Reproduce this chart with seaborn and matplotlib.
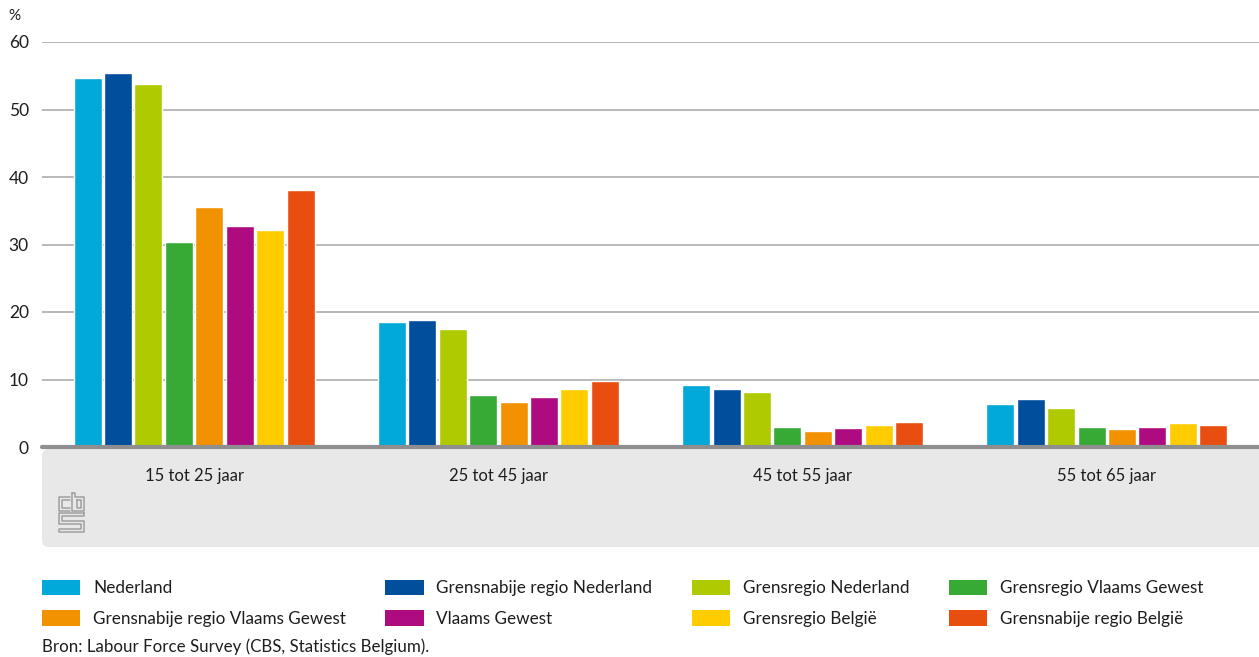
import pandas as pd
import matplotlib.pyplot as plt
import seaborn as sns
from matplotlib.patches import FancyBboxPatch, Patch
from matplotlib.lines import Line2D

# Data (werkloosheid naar leeftijd, %)
leeftijd = ['15 tot 25 jaar', '25 tot 45 jaar', '45 tot 55 jaar', '55 tot 65 jaar']
regio = ['Nederland', 'Grensnabije regio Nederland', 'Grensregio Nederland',
         'Grensregio Vlaams Gewest', 'Grensnabije regio Vlaams Gewest',
         'Vlaams Gewest', 'Grensregio België', 'Grensnabije regio België']
nederland = [54.7, 18.5, 9.2, 6.3]
grensnabije_nl = [55.4, 18.8, 8.6, 7.1]
grensregio_nl = [53.8, 17.5, 8.1, 5.8]
grensregio_vg = [30.4, 7.7, 2.9, 2.9]
grensnabije_vg = [35.6, 6.6, 2.3, 2.6]
vlaams_gewest = [32.7, 7.4, 2.8, 2.9]
grensregio_be = [32.1, 8.6, 3.2, 3.5]
grensnabije_be = [38.1, 9.8, 3.7, 3.2]
kleuren = ['#00a9d9', '#004e9c', '#afca00', '#37a935',
           '#f39200', '#af0b80', '#ffcc00', '#e84e0f']

reeksen = [nederland, grensnabije_nl, grensregio_nl, grensregio_vg,
           grensnabije_vg, vlaams_gewest, grensregio_be, grensnabije_be]
rows = []
for naam, waarden in zip(regio, reeksen):
    for lt, v in zip(leeftijd, waarden):
        rows.append({'leeftijd': lt, 'regio': naam, 'pct': v})
df = pd.DataFrame(rows)

sns.set_style('white')
plt.rcParams['font.family'] = ['Lato', 'DejaVu Sans']
plt.rcParams['text.color'] = '#1e1e1e'

W, H = 1259, 657
fig = plt.figure(figsize=(W / 100, H / 100), dpi=100)
ax = fig.add_axes([42 / W, 210 / H, 1220 / W, 405 / H])
ax.patch.set_alpha(0)

# grey band below the axis (drawn behind the axes)
band = FancyBboxPatch((0.42, 1.10), 12.4, 0.98,
                      boxstyle='round,pad=0,rounding_size=0.07',
                      transform=fig.dpi_scale_trans, facecolor='#e8e8e8',
                      edgecolor='none', zorder=-5)
fig.patches.append(band)

sns.barplot(data=df, x='leeftijd', y='pct', hue='regio', hue_order=regio,
            order=leeftijd, palette=kleuren, saturation=1, width=0.8, gap=0.08,
            errorbar=None, legend=False, ax=ax)

ax.set_xlim(-0.5, 3.51)
ax.set_ylim(0, 60)
ax.set_yticks(range(0, 61, 10))
ax.yaxis.grid(True, color='#a5a5a5', lw=1.1)
ax.set_axisbelow(True)
sns.despine(ax=ax, left=True, bottom=True)
ax.axhline(0, color='#8f8f8f', lw=3, zorder=5, clip_on=False)
ax.tick_params(axis='y', length=0, pad=9.5, labelsize=12.5, colors='#1e1e1e')
ax.tick_params(axis='x', length=0, pad=15, labelsize=12, colors='#1e1e1e')
ax.set_xlabel('')
ax.set_ylabel('')

fig.text(8 / W, 1 - 16 / H, '%', fontsize=11, va='center', ha='left')

# cbs logo (simple outline)
def px(pts):
    return [p[0] / 100 for p in pts], [(H - p[1]) / 100 for p in pts]

logo = [
    [(70, 497), (59, 497), (59, 511), (70, 511)],
    [(70, 500), (62, 500), (62, 508), (70, 508)],
    [(72, 493), (75, 493), (75, 497), (84, 497), (84, 511), (72, 511), (72, 493)],
    [(77, 500), (81, 500), (81, 508), (77, 508), (77, 500)],
    [(84, 513), (59, 513), (59, 524), (81, 524), (81, 529), (59, 529), (59, 532),
     (84, 532), (84, 521), (62, 521), (62, 516), (84, 516), (84, 513)],
]
for pts in logo:
    xs, ys = px(pts)
    fig.add_artist(Line2D(xs, ys, color='#a0a0a0', lw=1.1,
                          transform=fig.dpi_scale_trans))

# legend, filled row by row
volgorde = [0, 4, 1, 5, 2, 6, 3, 7]
handles = [Patch(facecolor=kleuren[i], edgecolor='none') for i in volgorde]
labels = [regio[i] for i in volgorde]
fig.legend(handles, labels, ncol=4, loc='upper left',
           bbox_to_anchor=(35 / W, 1 - 573 / H), frameon=False, fontsize=12.3,
           handlelength=2.25, handleheight=1.0, handletextpad=0.75,
           columnspacing=2.3, labelspacing=0.82, borderaxespad=0)

fig.text(42 / W, 1 - 647 / H, 'Bron: Labour Force Survey (CBS, Statistics Belgium).',
         fontsize=12.2, va='center', ha='left')

fig.savefig('out.png', dpi=100)
